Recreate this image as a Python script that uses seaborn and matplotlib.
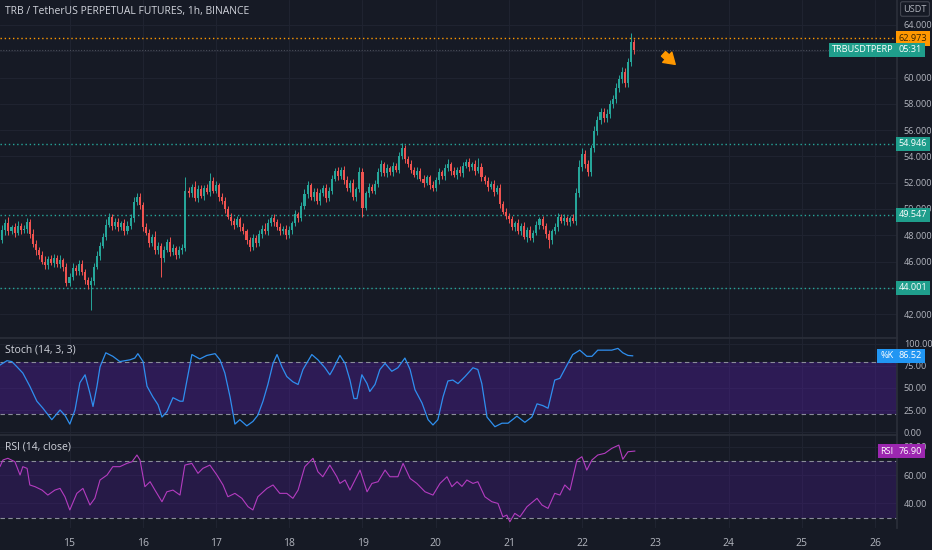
import numpy as np
import pandas as pd
import matplotlib
matplotlib.use('Agg')
import matplotlib.pyplot as plt
import matplotlib.transforms as mtransforms
import seaborn as sns

# 1h closes per day (TRBUSDT perp)
day14 = [47.6, 48.4, 48.9, 48.3, 48.6, 48.2, 48.7, 48.4, 48.5, 49.0, 48.1, 47.3, 46.9, 46.5, 46.0, 45.7,
         46.2, 45.9, 46.3, 45.8, 46.1, 45.6, 44.4]
day15 = [44.8, 45.5, 45.3, 45.8, 45.2, 44.6, 44.2, 44.5, 45.6, 46.4, 47.2, 47.9, 48.8, 49.4, 48.7, 49.0,
         48.6, 48.9, 48.3, 48.7, 49.3, 50.5, 50.9, 50.3]
day16 = [48.6, 48.2, 47.4, 47.9, 46.9, 47.2, 46.3, 46.9, 47.5, 46.7, 47.0, 46.5, 46.9, 47.0, 51.4, 51.2,
         51.7, 50.8, 51.5, 51.0, 51.6, 51.3, 52.1, 51.4]
day17 = [51.8, 50.9, 50.6, 50.0, 49.4, 49.1, 48.8, 49.2, 48.6, 48.3, 47.6, 47.1, 47.8, 47.4, 48.1, 48.5,
         48.3, 48.9, 49.3, 49.0, 48.6, 48.3, 48.5, 48.0]
day18 = [48.4, 48.9, 49.6, 49.3, 50.2, 51.1, 51.8, 50.9, 51.3, 50.6, 51.2, 51.6, 50.8, 51.4, 52.3, 52.9,
         52.5, 53.0, 52.2, 51.6, 52.0, 50.9, 51.5, 52.8]
day19 = [50.1, 51.2, 51.7, 51.4, 51.9, 52.8, 53.4, 52.7, 53.1, 52.8, 53.3, 53.0, 54.0, 54.6, 53.8, 53.4,
         53.0, 52.6, 52.9, 52.3, 52.0, 52.4, 51.8, 51.6]
day20 = [52.2, 52.8, 52.5, 53.1, 53.4, 52.9, 52.6, 53.0, 52.7, 53.3, 53.6, 53.2, 53.4, 52.9, 53.2, 52.4,
         52.1, 51.7, 51.9, 51.3, 51.6, 50.4, 49.8, 49.5]
day21 = [49.2, 48.6, 48.9, 48.3, 48.7, 47.9, 48.4, 47.8, 48.2, 48.8, 49.2, 48.7, 48.1, 47.6, 48.3, 48.6,
         49.4, 49.1, 49.3, 49.0, 49.3, 49.1, 51.2, 53.2]
day22 = [54.2, 53.4, 52.8, 54.6, 55.9, 56.8, 57.4, 56.9, 57.2, 58.0, 58.4, 59.2, 59.9, 60.4, 59.6, 61.2,
         62.7, 62.1]
first_open = 48.0

# wick lengths above / below the body
upper_wick = [0.3, 0.4, 0.3, 0.5, 0.2, 0.3, 0.4, 0.2, 0.3, 0.3, 0.2, 0.4, 0.3, 0.2, 0.3, 0.4, 0.2, 0.3, 0.3, 0.2, 0.4, 0.2, 0.3,
              0.3, 0.4, 0.2, 0.3, 0.3, 0.2, 0.2, 0.3, 0.3, 0.4, 0.3, 0.3, 0.4, 0.3, 0.2, 0.3, 0.3, 0.2, 0.3, 0.4, 0.3, 0.4, 0.3, 0.3,
              0.2, 0.3, 0.3, 0.2, 0.4, 0.3, 0.2, 0.3, 0.2, 0.4, 0.3, 0.2, 0.3, 0.3, 1.0, 0.3, 0.2, 0.4, 0.3, 0.3, 0.2, 0.3, 0.6, 0.3,
              0.3, 0.2, 0.3, 0.3, 0.2, 0.3, 0.2, 0.3, 0.2, 0.3, 0.2, 0.3, 0.3, 0.2, 0.3, 0.3, 0.4, 0.3, 0.2, 0.3, 0.2, 0.3, 0.2, 0.3,
              0.3, 0.2, 0.3, 0.2, 0.3, 0.4, 0.3, 0.2, 0.3, 0.3, 0.3, 0.2, 0.3, 0.3, 0.3, 0.2, 0.3, 0.2, 0.3, 0.3, 0.2, 0.3, 0.2, 0.4,
              0.3, 0.2, 0.3, 0.2, 0.3, 0.3, 0.3, 0.2, 0.3, 0.2, 0.3, 0.2, 0.3, 0.4, 0.3, 0.2, 0.3, 0.2, 0.3, 0.2, 0.3, 0.2, 0.2, 0.3,
              0.2, 0.3, 0.2, 0.3, 0.4, 0.2, 0.3, 0.2, 0.3, 0.3, 0.2, 0.3, 0.2, 0.3, 0.7, 0.3, 0.2, 0.3, 0.2, 0.3, 0.2, 0.3, 0.2, 0.3,
              0.2, 0.3, 0.2, 0.3, 0.2, 0.3, 0.2, 0.3, 0.2, 0.3, 0.2, 0.3, 0.2, 0.3, 0.2, 0.3, 0.3, 0.2, 0.3, 0.2, 0.2, 0.3, 0.4, 0.5,
              0.4, 0.3, 0.3, 0.3, 0.4, 0.3, 0.3, 0.3, 0.4, 0.3, 0.3, 0.4, 0.3, 0.4, 0.3, 0.3, 0.7, 0.2]
lower_wick = [0.3, 0.2, 0.4, 0.3, 0.2, 0.3, 0.2, 0.3, 0.2, 0.3, 0.3, 0.2, 0.4, 0.3, 0.2, 0.3, 0.3, 0.2, 0.3, 0.2, 0.3, 0.3, 0.3,
              0.3, 0.2, 0.3, 0.3, 0.2, 0.3, 0.3, 1.9, 0.3, 0.2, 0.3, 0.2, 0.3, 0.2, 0.3, 0.2, 0.3, 0.2, 0.3, 0.2, 0.2, 0.3, 0.2, 0.3,
              0.3, 0.2, 0.3, 0.2, 0.3, 0.3, 1.5, 0.3, 0.2, 0.3, 0.2, 0.3, 0.2, 0.3, 0.2, 0.3, 0.3, 0.2, 0.3, 0.2, 0.3, 0.2, 0.3, 0.2,
              0.2, 0.3, 0.2, 0.3, 0.2, 0.3, 0.3, 0.2, 0.3, 0.2, 0.3, 0.3, 0.2, 0.3, 0.2, 0.3, 0.2, 0.3, 0.2, 0.3, 0.2, 0.3, 0.2, 0.3,
              0.2, 0.3, 0.2, 0.3, 0.2, 0.2, 0.3, 0.2, 0.3, 0.2, 0.3, 0.2, 0.3, 0.2, 0.3, 0.2, 0.3, 0.2, 0.3, 0.2, 0.3, 0.2, 0.3, 0.2,
              0.7, 0.2, 0.3, 0.2, 0.3, 0.2, 0.3, 0.2, 0.3, 0.2, 0.3, 0.2, 0.3, 0.2, 0.3, 0.2, 0.3, 0.2, 0.3, 0.2, 0.3, 0.2, 0.3, 0.2,
              0.2, 0.3, 0.2, 0.3, 0.2, 0.3, 0.2, 0.3, 0.2, 0.3, 0.2, 0.3, 0.2, 0.3, 0.2, 0.3, 0.2, 0.3, 0.2, 0.3, 0.2, 0.3, 0.2, 0.3,
              0.3, 0.2, 0.3, 0.2, 0.3, 0.2, 0.4, 0.2, 0.3, 0.2, 0.3, 0.2, 0.3, 0.6, 0.3, 0.2, 0.3, 0.2, 0.3, 0.2, 0.3, 0.2, 0.3, 0.3,
              0.3, 0.3, 0.3, 0.3, 0.3, 0.3, 0.3, 0.3, 0.3, 0.3, 0.3, 0.3, 0.3, 0.3, 0.3, 0.3, 0.3, 0.3]

# Stoch %K (hour since 14th 00:00, value)
stoch_hours = [1.2, 3.5, 5.1, 6.8, 8.7, 11.0, 13.3, 15.3, 18.2, 20.9,
               22.5, 24.1, 25.8, 27.4, 29.1, 30.7, 31.7, 33.0, 34.0, 35.9,
               38.2, 40.5, 43.8, 45.4, 46.4, 48.1, 49.4, 51.3, 53.0, 54.3,
               55.9, 57.9, 60.2, 61.2, 62.5, 64.1, 66.7, 69.0, 71.7, 73.3,
               74.9, 76.6, 78.2, 79.8, 82.1, 84.1, 85.7, 87.4, 89.0, 90.7,
               92.0, 93.6, 95.2, 97.2, 98.9, 100.5, 103.4, 105.4, 107.7, 109.3,
               110.3, 112.6, 114.3, 115.9, 117.2, 118.2, 119.8, 121.5, 122.4, 124.1,
               125.7, 127.4, 129.6, 131.6, 133.9, 135.6, 137.2, 139.5, 141.5, 143.1,
               144.7, 146.4, 148.0, 149.6, 151.3, 153.6, 156.2, 157.8, 159.1, 160.8,
               163.4, 165.7, 167.7, 170.6, 173.2, 175.5, 177.2, 179.1, 180.8, 183.0,
               184.7, 187.0, 188.9, 191.2, 193.5, 195.2, 197.1, 201.7, 203.7, 205.3,
               207.0, 208.6]
stoch_k = [76, 81, 80, 74, 67, 52, 35, 27, 14, 25,
           19, 9, 25, 56, 65, 44, 29, 52, 74, 90,
           86, 80, 82, 84, 89, 80, 52, 40, 31, 17,
           23, 39, 35, 35, 59, 88, 83, 87, 89, 82,
           67, 40, 9, 14, 7, 12, 19, 35, 54, 78,
           88, 74, 63, 57, 54, 71, 88, 82, 73, 65,
           71, 87, 78, 59, 38, 38, 65, 55, 46, 54,
           71, 78, 69, 73, 84, 71, 48, 33, 14, 8,
           14, 40, 58, 59, 55, 63, 73, 71, 55, 17,
           6, 10, 10, 18, 11, 17, 32, 30, 27, 59,
           61, 76, 88, 93, 86, 86, 93, 93, 95, 90,
           87, 86.52]

# RSI (14, close)
rsi_hours = [1.2, 2.2, 3.8, 6.1, 7.8, 8.7, 10.1, 11.0, 12.7, 15.0,
             16.9, 19.2, 20.9, 22.5, 24.1, 26.4, 28.4, 30.7, 32.3, 34.0,
             36.3, 38.2, 40.5, 42.8, 44.5, 46.1, 47.1, 48.7, 50.4, 52.0,
             54.3, 55.9, 57.9, 60.2, 61.8, 64.1, 66.1, 67.7, 70.0, 72.3,
             74.3, 75.9, 78.2, 80.5, 82.5, 84.1, 85.7, 88.7, 90.7, 92.9,
             95.2, 97.2, 98.9, 101.1, 103.8, 105.4, 107.0, 109.3, 111.6, 112.6,
             114.3, 115.9, 119.2, 121.5, 123.1, 125.1, 127.4, 129.0, 131.6, 133.3,
             135.6, 137.8, 140.5, 143.1, 145.4, 147.7, 149.3, 151.0, 152.6, 154.2,
             156.2, 157.8, 160.1, 162.4, 164.4, 166.0, 167.3, 168.3, 169.9, 171.6,
             173.9, 177.2, 178.8, 180.8, 183.0, 184.7, 186.3, 188.0, 190.3, 191.9,
             193.5, 195.2, 197.1, 199.4, 201.7, 204.0, 205.3, 207.0, 209.3]
rsi = [65.9, 70.6, 71.8, 69.4, 60.0, 65.9, 64.7, 53.0, 51.8, 49.4,
       45.9, 49.4, 50.6, 44.7, 35.4, 47.1, 50.6, 38.9, 43.6, 56.5,
       60.0, 65.9, 65.9, 68.2, 69.4, 74.1, 70.6, 51.8, 55.3, 49.4,
       41.2, 48.2, 49.4, 45.9, 67.0, 68.2, 61.2, 64.7, 67.0, 60.0,
       53.0, 44.7, 47.1, 43.6, 37.7, 35.4, 44.7, 50.6, 53.0, 47.1,
       47.1, 43.6, 49.4, 65.9, 71.8, 62.3, 58.8, 67.0, 58.8, 54.1,
       56.5, 49.4, 63.5, 48.2, 54.1, 55.3, 63.5, 58.8, 58.8, 68.2,
       57.6, 54.1, 48.2, 45.9, 54.1, 58.8, 51.8, 55.3, 52.0, 56.5,
       54.1, 55.3, 44.7, 41.2, 40.0, 30.6, 31.8, 27.1, 33.0, 30.6,
       37.7, 43.6, 38.9, 36.5, 47.1, 45.9, 53.0, 49.4, 70.6, 72.9,
       63.5, 70.6, 74.1, 75.3, 78.8, 81.1, 71.1, 76.4, 76.9]

levels = [54.946, 49.547, 44.001]
alert_level = 62.973
last_price = 62.1
day_ticks = list(range(15, 27))
price_ticks = list(range(42, 65, 2))
hidden_price_ticks = [62, 44]   # covered by the price tags

BG = '#161a25'
GRID = '#1f2330'
TXT = '#b2b5be'
GREEN = '#26a69a'
RED = '#ef5350'

sns.set_theme(style='dark', rc={'axes.facecolor': BG, 'figure.facecolor': BG,
                                'axes.edgecolor': '#2a2e39', 'grid.color': GRID})
plt.rcParams['font.family'] = ['Open Sans', 'DejaVu Sans']

closes = np.array(day14 + day15 + day16 + day17 + day18 + day19 + day20 + day21 + day22)
opens = np.concatenate([[first_open], closes[:-1]])
highs = np.maximum(opens, closes) + np.array(upper_wick)
lows = np.minimum(opens, closes) - np.array(lower_wick)
t = 14 + np.arange(1, len(closes) + 1) / 24
cols = [GREEN if c >= o else RED for o, c in zip(opens, closes)]

stoch_df = pd.DataFrame({'day': 14 + np.array(stoch_hours) / 24, 'k': stoch_k})
rsi_df = pd.DataFrame({'day': 14 + np.array(rsi_hours) / 24, 'rsi': rsi})

fig = plt.figure(figsize=(9.32, 5.5), dpi=100)
W = 897 / 932
ax = fig.add_axes([0, 1 - 338 / 550, W, 338 / 550])
ax_st = fig.add_axes([0, 1 - 435 / 550, W, 97 / 550], sharex=ax)
ax_rsi = fig.add_axes([0, 1 - 528 / 550, W, 93 / 550], sharex=ax)

XMIN, XMAX = 14.051, 26.298

# --- price panel
ax.vlines(t, lows, highs, colors=cols, linewidth=0.7, zorder=3)
ax.bar(t, np.maximum(np.abs(closes - opens), 0.05), bottom=np.minimum(opens, closes),
       width=0.028, color=cols, linewidth=0, zorder=4)
for lv in levels:
    ax.axhline(lv, color=GREEN, linestyle=(0, (1, 2)), linewidth=1, zorder=2)
ax.axhline(alert_level, color='#ff9800', linestyle=(0, (1, 2)), linewidth=1, zorder=2)
ax.axhline(last_price, color='#4a4e5a', linestyle=(0, (1, 1.5)), linewidth=0.8, zorder=1)
ax.set_ylim(40.18, 65.9)
ax.set_yticks(price_ticks)
ax.set_yticklabels(['' if v in hidden_price_ticks else f'{v:.3f}' for v in price_ticks])
ax.annotate('', xy=(23.27, 61.0), xytext=(23.11, 61.8),
            arrowprops=dict(arrowstyle='simple,head_length=0.7,head_width=0.9,tail_width=0.4',
                            color='#ff9800', mutation_scale=11, shrinkA=0, shrinkB=0))
ax.text(0.006, 0.967, 'TRB / TetherUS PERPETUAL FUTURES, 1h, BINANCE', transform=ax.transAxes,
        color='#d1d4dc', fontsize=7.5, va='center', ha='left')

# --- stoch panel
ax_st.axhspan(20, 80, color='#5a1fb0', alpha=0.35, linewidth=0, zorder=1)
for lv in (20, 80):
    ax_st.axhline(lv, color='#8a8d99', linestyle=(0, (4, 3)), linewidth=0.8, zorder=2)
sns.lineplot(data=stoch_df, x='day', y='k', ax=ax_st, color='#2f8fef', linewidth=0.9,
             legend=False, zorder=3)
ax_st.set_ylim(-3.4, 106.8)
ax_st.set_yticks([0, 25, 50, 75, 100])
ax_st.set_yticklabels(['0.00', '25.00', '50.00', '75.00', '100.00'])
ax_st.text(0.006, 0.876, 'Stoch (14, 3, 3)', transform=ax_st.transAxes, color='#d1d4dc',
           fontsize=7.5, va='center', ha='left')

# --- RSI panel
ax_rsi.axhspan(30, 70, color='#4e1c99', alpha=0.3, linewidth=0, zorder=1)
for lv in (30, 70):
    ax_rsi.axhline(lv, color='#8a8d99', linestyle=(0, (4, 3)), linewidth=0.8, zorder=2)
sns.lineplot(data=rsi_df, x='day', y='rsi', ax=ax_rsi, color='#b43cc0', linewidth=0.8,
             legend=False, zorder=3)
ax_rsi.set_ylim(22.7, 88.2)
ax_rsi.set_yticks([40, 60, 80])
ax_rsi.set_yticklabels(['40.00', '60.00', '80.00'])
ax_rsi.text(0.006, 0.871, 'RSI (14, close)', transform=ax_rsi.transAxes, color='#d1d4dc',
            fontsize=7.5, va='center', ha='left')

for a in (ax, ax_st, ax_rsi):
    a.set_xlim(XMIN, XMAX)
    a.set_xticks(day_ticks)
    a.grid(True, color=GRID, linewidth=0.8)
    a.set_axisbelow(True)
    a.yaxis.tick_right()
    a.tick_params(axis='y', length=0, pad=5, labelsize=6.6, labelcolor=TXT)
    a.tick_params(axis='x', length=0, labelsize=7.5, labelcolor=TXT)
    a.set_xlabel('')
    a.set_ylabel('')
    for side in ('left', 'bottom'):
        a.spines[side].set_visible(False)
    a.spines['top'].set_color('#2a2e39')
    a.spines['right'].set_color('#2a2e39')
ax.spines['top'].set_visible(False)
plt.setp(ax.get_xticklabels(), visible=False)
plt.setp(ax_st.get_xticklabels(), visible=False)
ax_rsi.set_xticklabels([str(d) for d in day_ticks])
ax_rsi.tick_params(axis='x', pad=7)


def tag(a, y, s, bg, fg='white', x=1.002, ha='left'):
    tr = mtransforms.blended_transform_factory(a.transAxes, a.transData)
    a.text(x, y, s, transform=tr, ha=ha, va='center', fontsize=6.6, color=fg, clip_on=False, zorder=10,
           bbox=dict(boxstyle='square,pad=0.3', fc=bg, ec='none'))


tag(ax, alert_level, f'{alert_level:.3f}', '#ff9800', fg='#3a2400')
tag(ax, last_price, 'TRBUSDTPERP', '#1f9e8c', x=0.996, ha='right')
tag(ax, last_price, '05:31', '#1f9e8c')
for lv in levels:
    tag(ax, lv, f'{lv:.3f}', '#1f9e8c')
tag(ax_st, stoch_k[-1], '%K', '#2196f3', x=0.996, ha='right')
tag(ax_st, stoch_k[-1], f'{stoch_k[-1]:.2f}', '#2196f3')
tag(ax_rsi, rsi[-1], 'RSI', '#9c27b0', x=0.996, ha='right')
tag(ax_rsi, rsi[-1], f'{rsi[-1]:.2f}', '#9c27b0')

fig.text(915 / 932, 1 - 9 / 550, 'USDT', ha='center', va='center', fontsize=6.6, color=TXT,
         bbox=dict(boxstyle='round,pad=0.3,rounding_size=0.2', fc=BG, ec='#434651', lw=0.8))

fig.savefig('out.png', dpi=100, facecolor=BG)
